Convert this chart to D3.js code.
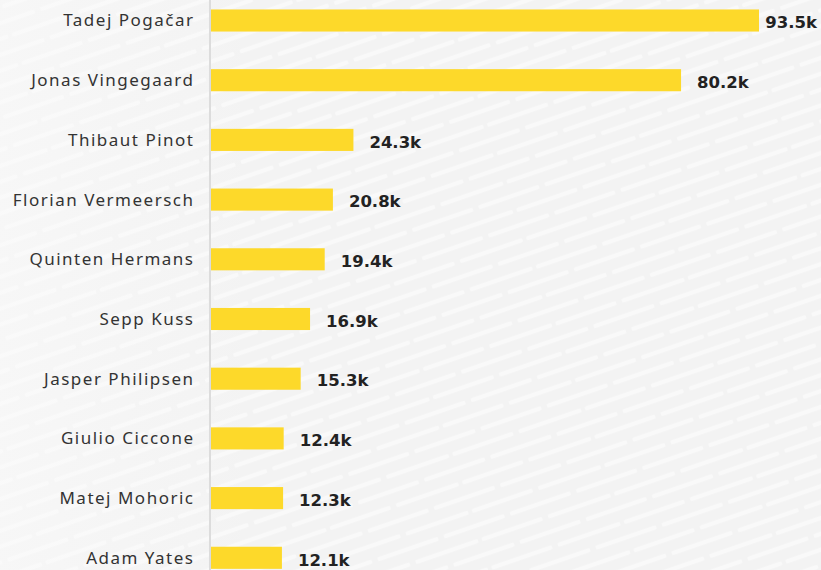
<!DOCTYPE html>
<html>
<head>
<meta charset="utf-8">
<script src="https://cdn.jsdelivr.net/npm/d3@7"></script>
<style>
  html, body { margin: 0; padding: 0; background: #f4f4f4; }
  svg { display: block; }
</style>
</head>
<body>
<svg id="chart" width="821" height="570"></svg>
<script>
// Riders and their follower counts (thousands)
const riders = [
  "Tadej Pogačar", "Jonas Vingegaard", "Thibaut Pinot", "Florian Vermeersch",
  "Quinten Hermans", "Sepp Kuss", "Jasper Philipsen", "Giulio Ciccone",
  "Matej Mohoric", "Adam Yates"
];
const values = [93.5, 80.2, 24.3, 20.8, 19.4, 16.9, 15.3, 12.4, 12.3, 12.1];
const valueLabels = ["93.5k", "80.2k", "24.3k", "20.8k", "19.4k", "16.9k", "15.3k", "12.4k", "12.3k", "12.1k"];

const W = 821, H = 570;
const svg = d3.select("#chart");

// textured backdrop: staggered white dashes on a light grey ground
const defs = svg.append("defs");
const pat = defs.append("pattern")
  .attr("id", "dashes")
  .attr("patternUnits", "userSpaceOnUse")
  .attr("width", 140).attr("height", 30)
  .attr("patternTransform", "rotate(-19)");
pat.append("rect").attr("width", 140).attr("height", 30).attr("fill", "#f3f3f3");
[[2, 7, 62], [72, 7, 134], [37, 22, 97], [107, 22, 169], [-33, 22, 27]].forEach(([x1, y, x2]) => {
  pat.append("line")
    .attr("x1", x1).attr("x2", x2).attr("y1", y).attr("y2", y)
    .attr("stroke", "#f9f9f9").attr("stroke-width", 4.5).attr("stroke-linecap", "round");
});
svg.append("rect").attr("width", W).attr("height", H).attr("fill", "url(#dashes)");
// lighter wash behind the rider names
const grad = defs.append("linearGradient").attr("id", "wash").attr("x1", 0).attr("x2", 1);
grad.append("stop").attr("offset", 0).attr("stop-color", "#fafafa").attr("stop-opacity", 0.55);
grad.append("stop").attr("offset", 1).attr("stop-color", "#fafafa").attr("stop-opacity", 0);
svg.append("rect").attr("width", 260).attr("height", H).attr("fill", "url(#wash)");

const x0 = 211;
const x = d3.scaleLinear().domain([0, 93.5]).range([x0, 759]);
const y = d3.scaleBand().domain(riders).range([-9.35, 587.65]).paddingInner(0.63).paddingOuter(0.315);

// baseline
svg.append("line")
  .attr("x1", x0 - 1).attr("x2", x0 - 1).attr("y1", 0).attr("y2", H)
  .attr("stroke", "#dcdcdc").attr("stroke-width", 2);

const rows = riders.map((r, i) => ({ rider: r, value: values[i], label: valueLabels[i] }));

svg.selectAll("rect.bar").data(rows).join("rect")
  .attr("class", "bar")
  .attr("x", x(0))
  .attr("y", d => y(d.rider))
  .attr("width", d => x(d.value) - x(0))
  .attr("height", y.bandwidth())
  .attr("fill", "#fdd92a");

svg.selectAll("text.name").data(rows).join("text")
  .attr("class", "name")
  .attr("x", x0 - 16.5)
  .attr("y", d => y(d.rider) + y.bandwidth() / 2)
  .attr("dy", "0.35em")
  .attr("text-anchor", "end")
  .attr("font-family", "'Noto Sans', sans-serif")
  .attr("font-size", 17)
  .attr("letter-spacing", 1.5)
  .attr("fill", "#333")
  .text(d => d.rider);

svg.selectAll("text.val").data(rows).join("text")
  .attr("class", "val")
  .attr("y", d => y(d.rider) + y.bandwidth() / 2 + 2)
  .attr("dy", "0.35em")
  .attr("font-family", "'DejaVu Sans', sans-serif")
  .attr("font-weight", "bold")
  .attr("font-size", 16.5)
  .attr("fill", "#222")
  .text(d => d.label)
  .attr("x", function(d) {
    const w = this.getComputedTextLength();
    return Math.min(x(d.value) + 16, W - 4 - w);
  });
</script>
</body>
</html>
